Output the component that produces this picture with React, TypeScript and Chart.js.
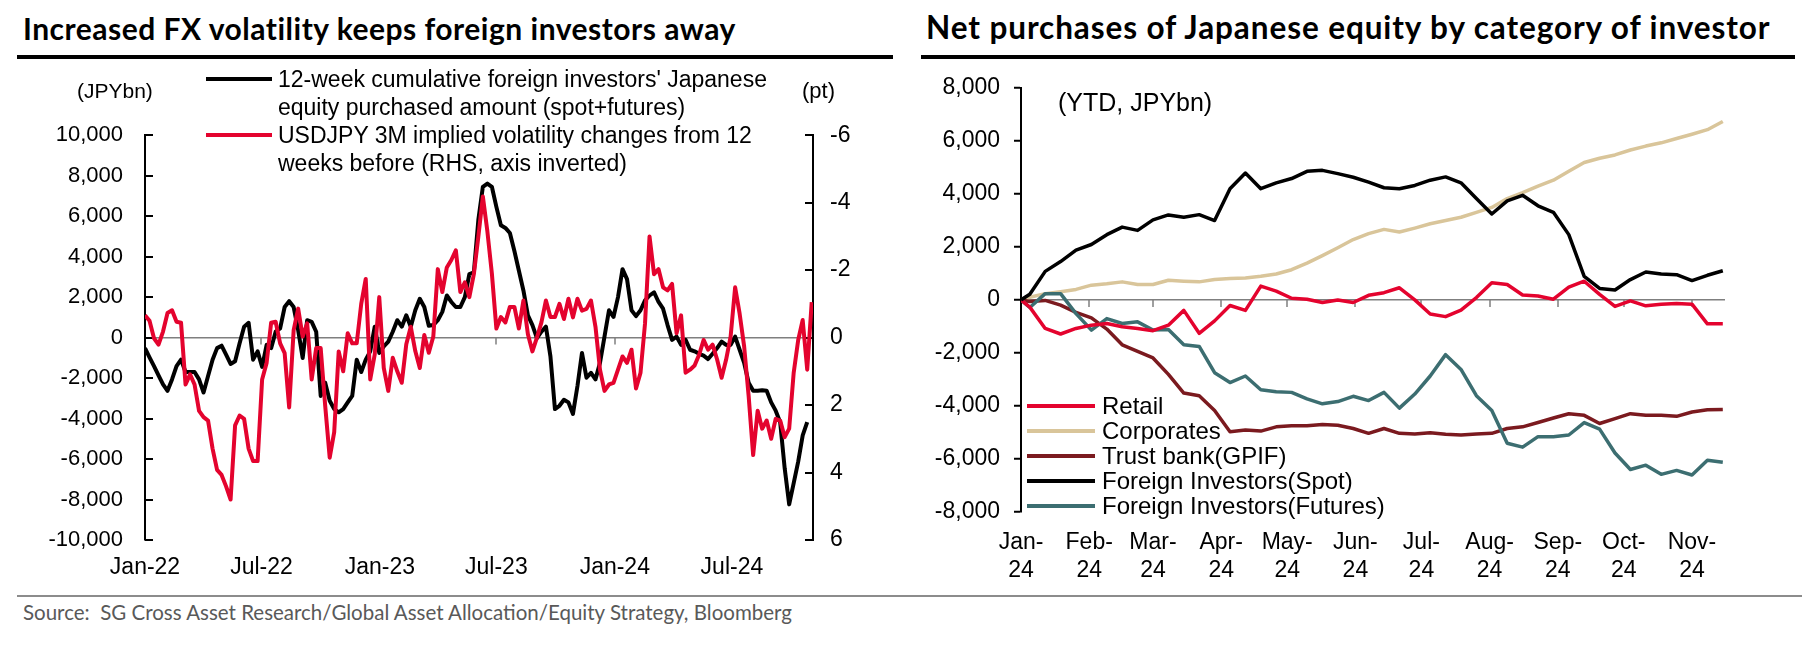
"use client"

import { useEffect, useRef } from "react"
import { Chart, registerables } from "chart.js"

Chart.register(...registerables)

const DAY = 86400000
const dayOf = (d: string, base: string) => Math.round((Date.parse(d) - Date.parse(base)) / DAY)
const fmt = (v: number) => v.toLocaleString("en-US")

// ---- left panel: weekly observations, Jan-22 .. Nov-24
const FX_BASE = "2022-01-01"
const FX_END = "2024-11-04"
const fxTickDates = ["2022-01-01", "2022-07-01", "2023-01-01", "2023-07-01", "2024-01-01", "2024-07-01"]
const fxTickLabels = ["Jan-22", "Jul-22", "Jan-23", "Jul-23", "Jan-24", "Jul-24"]

// 12-week cumulative foreign purchases, JPYbn
const foreignFlow12w = [
  -520, -975, -1410, -1870, -2310, -2630, -2065, -1410, -1090, -1700,
  -1700, -1700, -2065, -2715, -1900, -1090, -520, -400, -845, -1300,
  -1170, -280, 540, 730, -1090, -680, -1450, -360, -520, 290,
  455, 1510, 1800, 1510, 370, -1010, 860, 780, 290, -2880,
  -2230, -3120, -3530, -3690, -3530, -3200, -2880, -1090, -1700, -1090,
  -680, 540, -760, -440, -195, 290, 860, 540, 1100, 540,
  1350, 1920, 1510, 585, 620, 860, 1270, 2080, 1760, 1510,
  1510, 2000, 3140, 3220, 5820, 7450, 7610, 7450, 6460, 5550,
  5420, 5170, 4280, 3300, 2330, 1100, 620, -30, 290, 540,
  -930, -3530, -3370, -3070, -3200, -3770, -2390, -760, -1980, -1740,
  -2065, -1250, 50, 1350, 1020, 2000, 3380, 2890, 1350, 1060,
  1350, 1840, 2080, 2240, 1760, 1430, 620, -110, 50, -360,
  -110, -600, -680, -800, -890, -1060, -800, -520, -195, -360,
  -360, 50, -600, -1250, -2230, -2630, -2630, -2600, -2630, -3200,
  -3610, -4180, -6460, -8240, -7190, -6130, -4830, -4180,
]

// USDJPY 3M implied vol change vs 12 weeks before, pt (plotted on inverted RHS)
const usdjpyVolChange = [
  -0.66, -0.5, 0.02, 0.21, -0.18, -0.73, -0.81, -0.47, -0.44, 1.39,
  1.09, 1.39, 2.17, 2.36, 2.46, 3.29, 3.92, 4.07, 4.41, 4.8,
  2.6, 2.31, 2.41, 3.29, 3.66, 3.66, 1.24, 0.75, -0.44, -0.47,
  0.17, 0.46, 2.07, -0.22, -0.86, -0.03, -0.42, 1.24, 0.31, 0.31,
  2.02, 3.56, 2.8, 0.41, 1.0, -0.13, 0.17, 0.17, -1.0, -1.74,
  1.24, 0.5, -1.2, 0.9, 1.58, 0.6, 1.0, 1.34, 0.2, -0.32,
  0.4, 0.9, -0.08, 0.45, -0.03, -2.03, -1.35, -2.08, -2.3, -2.59,
  -1.35, -1.64, -1.2, -1.88, -3.0, -4.18, -3.15, -1.9, -0.27, -0.61,
  -0.45, -0.91, -0.91, -0.27, -1.1, -0.1, 0.41, 0.0, -0.45, -1.1,
  -0.61, -0.61, -1.0, -0.55, -1.15, -0.6, -1.15, -0.8, -0.85, -1.1,
  -0.32, 0.95, 1.58, 1.39, 1.34, 0.95, 0.56, 0.75, 0.36, 1.51,
  1.04, -0.42, -3.0, -1.88, -2.03, -1.49, -1.4, -1.59, -0.13, -0.66,
  1.04, 0.95, 0.83, 0.51, 0.07, 0.36, 0.21, 0.65, 1.19, 0.65,
  -0.03, -1.49, -0.71, 0.26, 1.73, 3.48, 2.17, 2.7, 2.46, 3.0,
  2.41, 2.46, 2.95, 2.7, 1.04, 0.07, -0.52, 0.95, -1.05,
]

// ---- right panel: YTD 2024, weekly (Fridays) after the 1 Jan origin
const YTD_BASE = "2024-01-01"
const YTD_END = "2024-11-16"
const ytdDates = ["2024-01-01"]
for (let t = Date.parse("2024-01-05"); t <= Date.parse("2024-11-15"); t += 7 * DAY) {
  ytdDates.push(new Date(t).toISOString().slice(0, 10))
}
const monthStarts = [
  "2024-01-01", "2024-02-01", "2024-03-01", "2024-04-01", "2024-05-01", "2024-06-01",
  "2024-07-01", "2024-08-01", "2024-09-01", "2024-10-01", "2024-11-01",
]
const monthLabels = ["Jan-", "Feb-", "Mar-", "Apr-", "May-", "Jun-", "Jul-", "Aug-", "Sep-", "Oct-", "Nov-"]

const retail = [
  0, -272, -1076, -1286, -1076, -952, -890, -1014, -1076, -1162,
  -952, -395, -1261, -791, -210, -395, 520, 334, 62, 25,
  -99, 0, -99, 173, 272, 458, 0, -532, -631, -383,
  87, 643, 581, 186, 148, 25, 482, 705, 210, -247,
  -37, -223, -161, -136, -161, -903, -903,
]
const corporates = [
  0, 100, 235, 309, 396, 557, 606, 680, 581, 581,
  742, 705, 680, 767, 804, 829, 890, 977, 1138, 1385,
  1670, 1967, 2276, 2500, 2660, 2560, 2709, 2870, 2994, 3117,
  3303, 3488, 3822, 4045, 4292, 4515, 4849, 5183, 5344, 5468,
  5653, 5802, 5925, 6086, 6247, 6420, 6729,
]
const trustBank = [
  0, -60, -20, -200, -470, -680, -1100, -1694, -1942, -2189,
  -2808, -3513, -3612, -4168, -4972, -4911, -4948, -4787, -4750, -4750,
  -4700, -4725, -4850, -5034, -4849, -5034, -5060, -5010, -5071, -5100,
  -5060, -5034, -4849, -4787, -4626, -4453, -4292, -4354, -4663, -4478,
  -4292, -4354, -4354, -4391, -4230, -4144, -4131,
]
const foreignSpot = [
  0, 210, 1076, 1447, 1880, 2090, 2460, 2746, 2622, 3018,
  3204, 3117, 3216, 2994, 4193, 4787, 4193, 4416, 4577, 4849,
  4886, 4762, 4626, 4441, 4230, 4193, 4317, 4515, 4639, 4416,
  3822, 3241, 3736, 3946, 3550, 3303, 2462, 891, 433, 371,
  767, 1051, 977, 952, 730, 928, 1101,
]
const foreignFutures = [
  0, -285, 235, 235, -519, -1138, -705, -890, -828, -1138,
  -1113, -1694, -1756, -2746, -3117, -2870, -3389, -3463, -3488, -3735,
  -3921, -3834, -3636, -3797, -3488, -4082, -3550, -2870, -2065, -2622,
  -3612, -4168, -5405, -5554, -5158, -5158, -5096, -4626, -4874, -5777,
  -6395, -6234, -6580, -6432, -6605, -6049, -6123,
]

const RED = "#E4032E"
const SANS = "'Liberation Sans', Arial, sans-serif"
const ZERO = "#7f7f7f"

Chart.defaults.font.family = SANS
Chart.defaults.color = "#000"

// inward axis ticks and small date ticks hanging from the zero line
const axisMarks = {
  id: "axisMarks",
  beforeDatasetsDraw(chart: any, _args: any, opts: any) {
    const { ctx } = chart
    ctx.save()
    ctx.strokeStyle = "#000"
    ctx.lineWidth = 2
    for (const id of opts.inward || []) {
      const s = chart.scales[id]
      const left = s.position === "left"
      const x0 = left ? s.right : s.left
      for (const t of s.ticks) {
        const y = Math.round(s.getPixelForValue(t.value))
        ctx.beginPath()
        ctx.moveTo(x0, y)
        ctx.lineTo(x0 + (left ? 8 : -8), y)
        ctx.stroke()
      }
    }
    const xs = chart.scales.x
    const y0 = chart.scales[opts.zeroAxis].getPixelForValue(0)
    ctx.strokeStyle = ZERO
    ctx.lineWidth = 1.5
    for (const t of xs.ticks) {
      const x = Math.round(xs.getPixelForValue(t.value))
      if (x < xs.left + 2) continue
      ctx.beginPath()
      ctx.moveTo(x, y0)
      ctx.lineTo(x, y0 + 7)
      ctx.stroke()
    }
    ctx.restore()
  },
}

const zeroGrid = (c: any) => (c.tick && c.tick.value === 0 ? ZERO : "rgba(0,0,0,0)")

function FxChart() {
  const ref = useRef<HTMLCanvasElement>(null)
  useEffect(() => {
    if (!ref.current) return
    const weekly = (arr: number[]) => arr.map((v, k) => ({ x: k * 7, y: v }))
    const tickDays = fxTickDates.map((d) => dayOf(d, FX_BASE))
    const chart = new Chart(ref.current, {
      type: "line",
      data: {
        datasets: [
          {
            label: "USDJPY 3M implied volatility changes from 12 weeks before (RHS, axis inverted)",
            data: weekly(usdjpyVolChange),
            yAxisID: "y2",
            borderColor: RED,
            borderWidth: 4,
            pointRadius: 0,
            borderJoinStyle: "round",
          },
          {
            label: "12-week cumulative foreign investors' Japanese equity purchased amount (spot+futures)",
            data: weekly(foreignFlow12w),
            yAxisID: "y",
            borderColor: "#000",
            borderWidth: 4,
            pointRadius: 0,
            borderJoinStyle: "round",
          },
        ],
      },
      options: {
        animation: false,
        responsive: true,
        maintainAspectRatio: false,
        layout: { padding: { top: 28, right: 0, left: 0, bottom: 0 } },
        scales: {
          x: {
            type: "linear",
            min: 0,
            max: dayOf(FX_END, FX_BASE),
            afterBuildTicks: (s: any) => {
              s.ticks = tickDays.map((v) => ({ value: v }))
            },
            afterFit: (s: any) => {
              s.height = 60
            },
            grid: { display: false, drawTicks: false },
            border: { display: false },
            ticks: {
              autoSkip: false,
              maxRotation: 0,
              padding: 14,
              font: { size: 23 },
              callback: (_v: any, i: number) => fxTickLabels[i],
            },
          },
          y: {
            position: "left",
            min: -10000,
            max: 10000,
            afterFit: (s: any) => {
              s.width = 145
            },
            grid: { color: zeroGrid, lineWidth: 1.5, drawTicks: false },
            border: { display: true, color: "#000", width: 2 },
            ticks: { stepSize: 2000, padding: 22, font: { size: 22 }, callback: (v: any) => fmt(v) },
          },
          y2: {
            position: "right",
            min: -6,
            max: 6,
            reverse: true,
            afterFit: (s: any) => {
              s.width = 87
            },
            grid: { display: false, drawTicks: false },
            border: { display: true, color: "#000", width: 2 },
            ticks: { stepSize: 2, padding: 17, font: { size: 23 } },
          },
        },
        plugins: {
          legend: { display: false },
          tooltip: { enabled: false },
          axisMarks: { inward: ["y", "y2"], zeroAxis: "y" },
        } as any,
      },
      plugins: [axisMarks],
    })
    return () => chart.destroy()
  }, [])
  return (
    <div style={{ position: "absolute", left: 0, top: 100, width: 900, height: 500 }}>
      <canvas ref={ref} />
    </div>
  )
}

function FlowChart() {
  const ref = useRef<HTMLCanvasElement>(null)
  useEffect(() => {
    if (!ref.current) return
    const xs = ytdDates.map((d) => dayOf(d, YTD_BASE))
    const series = (arr: number[]) => arr.map((v, i) => ({ x: xs[i], y: v }))
    const tickDays = monthStarts.map((d) => dayOf(d, YTD_BASE))
    const line = (label: string, arr: number[], color: string) => ({
      label,
      data: series(arr),
      borderColor: color,
      borderWidth: 3.5,
      pointRadius: 0,
      borderJoinStyle: "round" as const,
    })
    const chart = new Chart(ref.current, {
      type: "line",
      data: {
        datasets: [
          line("Foreign Investors(Spot)", foreignSpot, "#000"),
          line("Retail", retail, RED),
          line("Foreign Investors(Futures)", foreignFutures, "#3C6E71"),
          line("Trust bank(GPIF)", trustBank, "#7B1A1F"),
          line("Corporates", corporates, "#D9C59A"),
        ],
      },
      options: {
        animation: false,
        responsive: true,
        maintainAspectRatio: false,
        layout: { padding: { top: 21, right: 83, left: 0, bottom: 0 } },
        scales: {
          x: {
            type: "linear",
            min: 0,
            max: dayOf(YTD_END, YTD_BASE),
            afterBuildTicks: (s: any) => {
              s.ticks = tickDays.map((v) => ({ value: v }))
            },
            afterFit: (s: any) => {
              s.height = 88
            },
            grid: { display: false, drawTicks: false },
            border: { display: false },
            ticks: {
              autoSkip: false,
              maxRotation: 0,
              padding: 17,
              font: { size: 23 },
              callback: (_v: any, i: number) => [monthLabels[i], "24"],
            },
          },
          y: {
            position: "left",
            min: -8000,
            max: 8000,
            afterFit: (s: any) => {
              s.width = 121
            },
            grid: { color: zeroGrid, lineWidth: 1.5, tickColor: "#000", tickLength: 7, tickWidth: 2 },
            border: { display: true, color: "#000", width: 2 },
            ticks: { stepSize: 2000, padding: 14, font: { size: 23 }, callback: (v: any) => fmt(v) },
          },
        },
        plugins: {
          legend: { display: false },
          tooltip: { enabled: false },
          axisMarks: { inward: [], zeroAxis: "y" },
        } as any,
      },
      plugins: [axisMarks],
    })
    return () => chart.destroy()
  }, [])
  return (
    <div style={{ position: "absolute", left: 900, top: 60, width: 908, height: 540 }}>
      <canvas ref={ref} />
    </div>
  )
}

const abs = (s: any) => ({ position: "absolute" as const, whiteSpace: "nowrap" as const, ...s })

const leftLegend = [
  { color: "#000", lines: ["12-week cumulative foreign investors' Japanese", "equity purchased amount (spot+futures)"] },
  { color: RED, lines: ["USDJPY 3M implied volatility changes from 12", "weeks before (RHS, axis inverted)"] },
]
const rightLegend = [
  { color: RED, text: "Retail" },
  { color: "#D9C59A", text: "Corporates" },
  { color: "#7B1A1F", text: "Trust bank(GPIF)" },
  { color: "#000", text: "Foreign Investors(Spot)" },
  { color: "#3C6E71", text: "Foreign Investors(Futures)" },
]

export default function App() {
  const titleFont = {
    fontFamily: "Lato, sans-serif",
    fontWeight: 700,
    fontSize: 30,
    letterSpacing: "0.5px",
    lineHeight: "30px",
    color: "#000",
  }
  return (
    <div style={{ position: "absolute", left: 0, top: 0, width: 1808, height: 647, background: "#fff", fontFamily: SANS, overflow: "hidden" }}>
      <div style={abs({ left: 23, top: 13, ...titleFont })}>Increased FX volatility keeps foreign investors away</div>
      <div style={abs({ left: 926, top: 12, ...titleFont, fontSize: 31.5, letterSpacing: "0.9px" })}>
        Net purchases of Japanese equity by category of investor
      </div>
      <div style={abs({ left: 17, top: 55, width: 876, height: 4, background: "#000" })} />
      <div style={abs({ left: 921, top: 55, width: 874, height: 4, background: "#000" })} />

      <FxChart />
      <FlowChart />

      <div style={abs({ left: 77, top: 78, fontSize: 21, lineHeight: "26px" })}>(JPYbn)</div>
      <div style={abs({ left: 802, top: 78, fontSize: 22, lineHeight: "26px" })}>(pt)</div>
      {leftLegend.map((item, i) => (
        <div key={i}>
          <div style={abs({ left: 206, top: 77 + i * 56, width: 66, height: 4, background: item.color })} />
          <div style={abs({ left: 278, top: 65 + i * 56, fontSize: 23, lineHeight: "28px" })}>
            {item.lines.map((l, j) => (
              <div key={j}>{l}</div>
            ))}
          </div>
        </div>
      ))}

      <div style={abs({ left: 1058, top: 87, fontSize: 25, lineHeight: "30px" })}>(YTD, JPYbn)</div>
      {rightLegend.map((item, i) => (
        <div key={i}>
          <div style={abs({ left: 1027, top: 404 + i * 25, width: 68, height: 4, background: item.color })} />
          <div style={abs({ left: 1102, top: 393 + i * 25, fontSize: 24, lineHeight: "25px" })}>{item.text}</div>
        </div>
      ))}

      <div style={abs({ left: 17, top: 595, width: 1785, height: 2, background: "#8c8c8c" })} />
      <div style={abs({ left: 23, top: 600, fontFamily: "Lato, sans-serif", fontSize: 20.5, lineHeight: "24px", color: "#595959" })}>
        Source:&nbsp; SG Cross Asset Research/Global Asset Allocation/Equity Strategy, Bloomberg
      </div>
    </div>
  )
}
